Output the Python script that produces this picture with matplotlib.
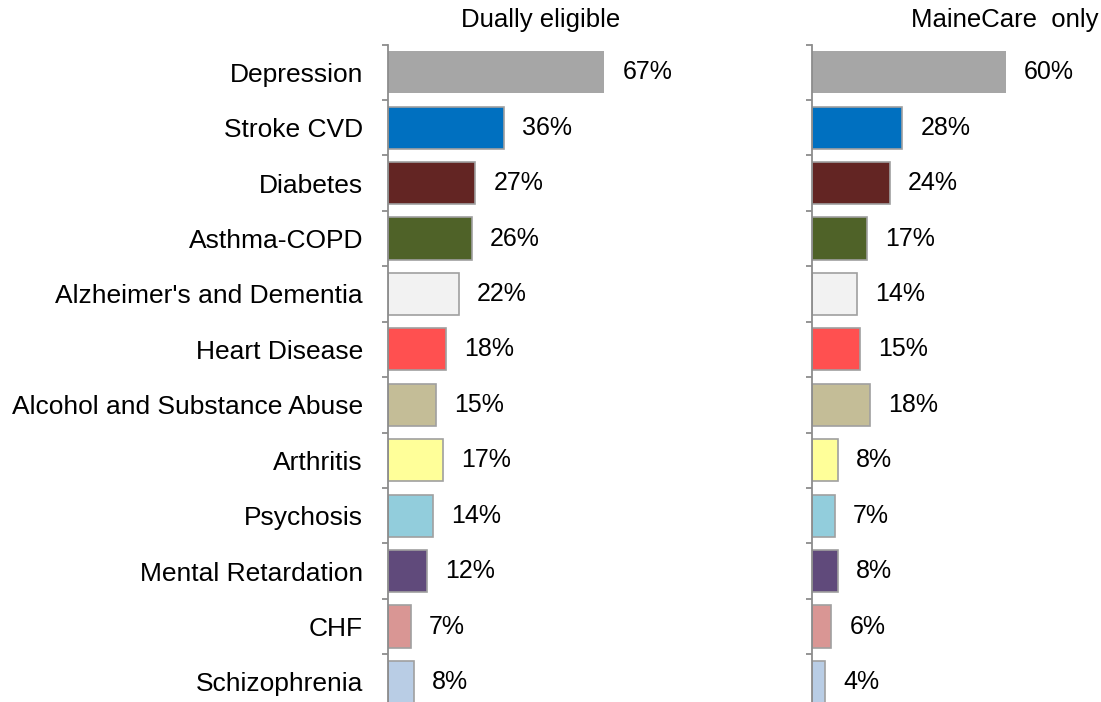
import matplotlib.pyplot as plt
from matplotlib.ticker import FixedLocator

plt.rcParams['font.family'] = ['Liberation Sans', 'DejaVu Sans']

categories = ['Depression', 'Stroke CVD', 'Diabetes', 'Asthma-COPD',
              "Alzheimer's and Dementia", 'Heart Disease',
              'Alcohol and Substance Abuse', 'Arthritis', 'Psychosis',
              'Mental Retardation', 'CHF', 'Schizophrenia']
dual = [67, 36, 27, 26, 22, 18, 15, 17, 14, 12, 7, 8]
maine_only = [60, 28, 24, 17, 14, 15, 18, 8, 7, 8, 6, 4]
colors = ['#A6A6A6', '#0070C0', '#632523', '#4F6228', '#F2F2F2', '#FF5050',
          '#C4BD97', '#FFFF99', '#92CDDC', '#604A7B', '#D99694', '#B9CDE5']
titles = ['Dually eligible', 'MaineCare  only']

fig = plt.figure(figsize=(11.01, 7.02), dpi=100)
W, H = 1101, 702
px_per_pct = 3.23
ax_w = 300
y_top, y_bot = 44.5, 709.7

def make_panel(x0, values, show_labels):
    ax = fig.add_axes([x0 / W, (H - y_bot) / H, ax_w / W, (y_bot - y_top) / H])
    ypos = range(len(values))
    edges = ['none'] + ['#A0A0A0'] * (len(values) - 1)
    ax.barh(ypos, values, height=0.76, color=colors, edgecolor=edges, linewidth=1.2)
    for y, v in zip(ypos, values):
        ax.annotate(f'{v}%', (v, y), xytext=(13, 0), textcoords='offset points',
                    va='center', ha='left', fontsize=18)
    ax.set_xlim(0, ax_w / px_per_pct)
    ax.set_ylim(len(values) - 0.5, -0.5)
    for s in ['top', 'right', 'bottom']:
        ax.spines[s].set_visible(False)
    ax.spines['left'].set_color('#8C8C8C')
    ax.spines['left'].set_linewidth(1.3)
    ax.set_xticks([])
    ax.yaxis.set_major_locator(FixedLocator(list(ypos)))
    ax.yaxis.set_minor_locator(FixedLocator([i - 0.5 for i in range(len(values) + 1)]))
    ax.tick_params(axis='y', which='major', length=0, pad=18)
    ax.tick_params(axis='y', which='minor', length=4.5, width=1.3, color='#8C8C8C')
    if show_labels:
        ax.set_yticklabels(categories, fontsize=19)
    else:
        ax.set_yticklabels([])
    return ax

make_panel(388, dual, True)
make_panel(812, maine_only, False)

fig.text(541 / W, 1 - 20 / H, titles[0], ha='center', va='center', fontsize=18.5)
fig.text(1005 / W, 1 - 20 / H, titles[1], ha='center', va='center', fontsize=18.5)

fig.savefig('out.png', dpi=100)
